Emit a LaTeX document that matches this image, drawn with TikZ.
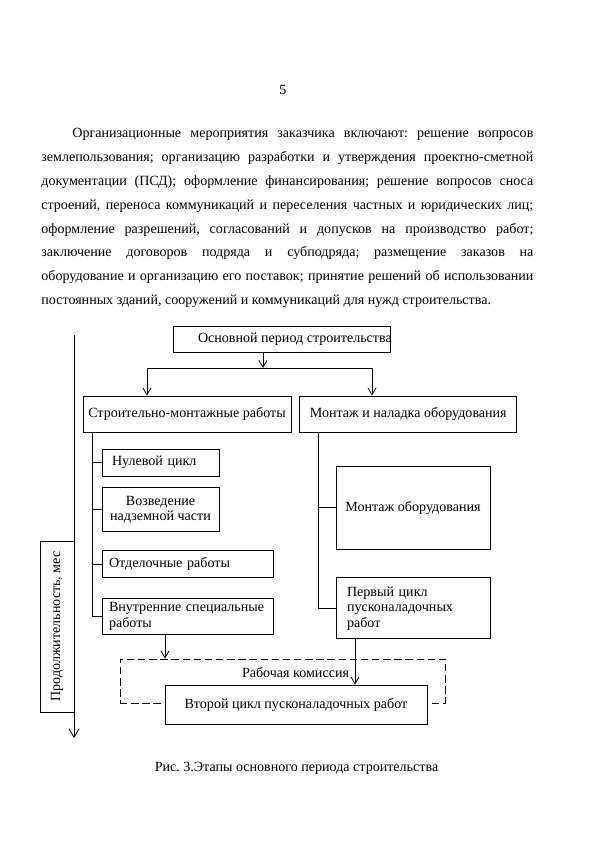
\documentclass[tikz,border=0pt]{standalone}
\usepackage{fontspec}
\setmainfont{Liberation Serif}
\usetikzlibrary{positioning, calc, arrows.meta}
\frenchspacing

\begin{document}
\begin{tikzpicture}[x=0.35mm, y=-0.35mm, line width=0.8pt, >={Straight Barb[length=2.4mm,width=2.8mm]}]
		\tikzstyle{blk}=[draw=black, rectangle, inner sep=0pt, align=center, font=\fontsize{14pt}{15.5pt}\selectfont]
		\tikzstyle{blkl}=[blk, align=left]
		\tikzstyle{txt}=[inner sep=0pt, font=\fontsize{14pt}{16pt}\selectfont]
		
		\useasboundingbox[fill=white] (0,0) rectangle (600,853);
		
		\node[txt](pg) at (283,90) {5};
		\node[txt, anchor=north west, text width=172.2mm, align=justify, font=\fontsize{14pt}{23.8pt}\selectfont](par) at (41,125) {\rule{0pt}{12pt}\hspace*{10.85mm}Организационные мероприятия заказчика включают: решение вопросов\linebreak
		землепользования; организацию разработки и утверждения проектно-сметной\linebreak
		документации (ПСД); оформление финансирования; решение вопросов сноса\linebreak
		строений, переноса коммуникаций и переселения частных и юридических лиц;\linebreak
		оформление разрешений, согласований и допусков на производство работ;\linebreak
		заключение договоров подряда и субподряда; размещение заказов на\linebreak
		оборудование и организацию его поставок; принятие решений об использовании\linebreak
		постоянных зданий, сооружений и коммуникаций для нужд строительства.};
		
		%% top level
		\node[blk, minimum width=75.95mm, minimum height=9.1mm, label={[name=topt, xshift=4.7mm, font=\fontsize{14pt}{16pt}\selectfont]center:Основной период строительства}](top) at (281.5,339) {};
		\node[blk, minimum width=72.8mm, minimum height=12.6mm](smr) at (187,414) {Строительно-монтажные работы};
		\node[blk, right=2.8mm of smr, minimum width=75.95mm, minimum height=12.6mm](mno) {Монтаж и наладка оборудования};
		
		%% left branch
		\node[blkl, minimum width=40.95mm, minimum height=9.45mm, text width=33.95mm](nc) at (160.5,462.5) {Нулевой цикл};
		\node[blk, below=3.85mm of nc, minimum width=40.95mm, minimum height=15.4mm](voz) {Возведение\\надземной части};
		\node[blkl, below right=6.3mm and 0cm of voz.south west, minimum width=59.85mm, minimum height=9.45mm, text width=54.95mm](otd) {Отделочные работы};
		\node[blkl, below=7mm of otd, minimum width=59.85mm, minimum height=12.6mm, text width=54.95mm](vsr) {Внутренние специальные\\работы};
		
		%% right branch
		\node[blk, minimum width=53.9mm, minimum height=29.05mm](mob) at (413,507.5) {Монтаж оборудования};
		\node[blkl, below=9.8mm of mob, minimum width=53.9mm, minimum height=21.35mm, text width=46.2mm](pc) {Первый цикл\\пусконаладочных\\работ};
		
		%% commission
		\node[blk, dashed, dash pattern=on 2.6mm off 1.3mm, minimum width=113.75mm, minimum height=15.4mm, label={[name=rkt, xshift=4.55mm, yshift=2.8mm, font=\fontsize{14pt}{16pt}\selectfont]center:Рабочая комиссия}](rk) at (282.5,681) {};
		\node[blk, fill=white, minimum width=91.7mm, minimum height=13.65mm](vtc) at (296,704.5) {Второй цикл пусконаладочных работ};
		
		%% duration axis
		\coordinate (ttop) at (74,335);
		\coordinate (tbot) at (74,738);
		\node[blk, rotate=90, minimum width=59.85mm, minimum height=11.9mm](dur) at (57,626.5) {Продолжительность, мес};
		\draw[-{Straight Barb[length=3mm,width=3.6mm]}] (ttop) -- (tbot);
		
		\coordinate (tarr) at (263,368);
		\coordinate (jl) at (147,368);
		\coordinate (jr) at (372,368);
		\coordinate (lb) at (92,0);
		\coordinate (rb) at (318,0);
		\coordinate (a1) at (165,0);
		\coordinate (a2) at (355,0);
		
		\draw[->] (tarr |- top.south)--(tarr);
		\draw (jl)--(jr);
		\draw[->] (jl)--(jl |- smr.north);
		\draw[->] (jr)--(jr |- mno.north);
		
		\draw (lb |- smr.south)--(lb |- vsr.west)--(vsr.west);
		\foreach \n in {nc, voz, otd}
			\draw (lb |- \n.west)--(\n.west);
		\draw (rb |- mno.south)--(rb |- pc.west)--(pc.west);
		\draw (rb |- mob.west)--(mob.west);
		
		\draw[->] (a1 |- vsr.south)--(a1 |- rk.north);
		\draw[->] (a2 |- pc.south)--(a2 |- vtc.north);
		
		\node[txt](cap) at (296.5,768) {Рис. 3.Этапы основного периода строительства};
\end{tikzpicture}
\end{document}
